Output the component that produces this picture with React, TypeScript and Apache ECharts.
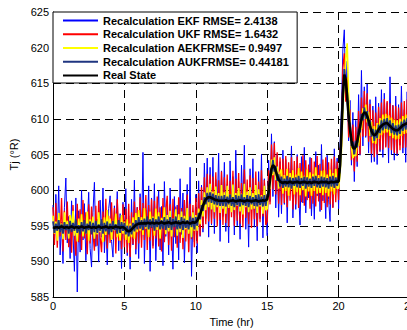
import React, { useEffect, useRef } from "react";
import * as echarts from "echarts";

// Sampling of all series: one value every 0.1 hr from 0 to 25 hr
const START_HR = 0;
const STEP_HR = 0.1;

const seriesNames = [
  "Recalculation EKF RMSE= 2.4138",
  "Recalculation UKF RMSE= 1.6432",
  "Recalculation AEKFRMSE= 0.9497",
  "Recalculation AUKFRMSE= 0.44181",
  "Real State",
];

const xTicks = [0, 5, 10, 15, 20, 25];
const yTicks = [585, 590, 595, 600, 605, 610, 615, 620, 625];

const ekf = [
  597.9, 592.4, 599.4, 593.6, 600.6, 590.9, 595.5, 589.7, 597.6, 601.7,
  592.6, 596.3, 590.4, 598.5, 593.9, 588.6, 598.9, 585.7, 597.1, 591.3,
  600.0, 593.0, 598.1, 590.1, 595.2, 599.7, 591.8, 589.2, 596.9, 601.1,
  592.1, 595.9, 589.9, 598.6, 593.4, 600.3, 591.2, 595.6, 589.5, 597.4,
  599.2, 592.8, 590.6, 597.8, 594.2, 599.8, 591.5, 596.7, 589.0, 598.3,
  593.1, 600.2, 590.8, 596.4, 588.9, 598.7, 592.3, 601.4, 591.0, 597.6,
  590.4, 599.5, 593.0, 605.3, 589.7, 597.2, 594.1, 600.6, 588.6, 598.9,
  592.2, 600.9, 590.1, 596.8, 599.9, 591.6, 597.7, 589.4, 601.2, 593.5,
  598.4, 590.9, 600.3, 594.7, 588.9, 599.1, 592.5, 597.9, 590.2, 601.6,
  593.8, 599.6, 589.8, 596.2, 600.8, 591.4, 603.2, 587.9, 597.0, 592.7,
  599.4, 591.2, 601.3, 593.5, 600.7, 594.1, 603.8, 596.0, 604.5, 593.4,
  603.2, 595.1, 604.6, 593.9, 601.5, 597.0, 605.2, 592.8, 602.7, 596.3,
  603.9, 594.2, 600.8, 592.6, 604.1, 596.9, 601.9, 593.7, 605.6, 595.0,
  601.2, 593.1, 603.5, 597.4, 606.3, 594.5, 600.1, 592.0, 603.0, 596.6,
  604.4, 594.8, 599.9, 592.9, 602.6, 596.0, 605.0, 593.3, 601.6, 597.8,
  593.6, 604.2, 598.4, 607.9, 599.1, 606.8, 597.5, 605.1, 596.2, 604.0,
  596.7, 605.6, 598.0, 604.3, 595.4, 603.1, 599.5, 606.2, 596.1, 602.8,
  597.3, 605.0, 599.8, 595.1, 604.7, 598.2, 606.0, 596.8, 602.4, 598.9,
  604.6, 596.4, 601.9, 595.9, 605.4, 599.2, 603.5, 597.0, 606.4, 598.5,
  602.1, 596.0, 604.9, 598.7, 595.6, 603.8, 597.6, 605.8, 599.6, 604.5,
  597.4, 606.2, 611.5, 619.8, 622.5, 613.2, 618.1, 606.9, 612.6, 603.5,
  610.9, 601.2, 609.8, 603.3, 613.4, 604.9, 616.8, 606.2, 614.5, 607.4,
  614.9, 605.2, 612.7, 603.9, 611.8, 604.0, 613.1, 603.6, 612.2, 605.4,
  614.1, 604.6, 613.6, 606.1, 612.3, 603.8, 615.9, 605.0, 611.9, 604.2,
  613.2, 604.8, 612.0, 606.3, 614.6, 605.2, 611.3, 603.9, 613.8, 606.0,
  612.0,
];

const ukf = [
  597.6, 592.3, 598.2, 591.9, 596.8, 593.5, 598.9, 591.4, 597.1, 593.0,
  598.4, 592.0, 596.5, 591.2, 597.9, 593.6, 590.8, 598.1, 592.7, 597.3,
  591.6, 598.6, 593.2, 596.9, 591.0, 598.0, 592.5, 597.7, 593.9, 591.5,
  597.8, 592.2, 598.5, 593.4, 591.3, 597.0, 592.8, 598.8, 591.8, 596.4,
  592.6, 598.3, 593.1, 597.5, 591.1, 598.7, 592.9, 596.2, 591.7, 598.0,
  592.0, 597.4, 591.2, 598.1, 590.6, 596.9, 592.4, 598.4, 591.7, 597.6,
  592.5, 599.0, 591.9, 598.2, 593.0, 599.3, 591.6, 597.9, 592.9, 598.7,
  591.8, 598.5, 593.2, 599.1, 592.1, 597.6, 591.4, 598.9, 592.7, 597.3,
  599.2, 592.3, 598.0, 591.5, 598.8, 593.4, 597.7, 591.9, 599.0, 592.6,
  597.5, 591.7, 598.6, 592.8, 599.4, 591.3, 598.1, 593.1, 597.9, 592.0,
  598.9, 592.5, 599.6, 593.6, 600.4, 594.6, 601.8, 595.2, 602.3, 595.6,
  602.2, 595.3, 601.9, 596.0, 602.5, 594.9, 601.4, 595.8, 602.6, 595.1,
  601.8, 595.4, 602.2, 594.9, 601.3, 596.2, 602.7, 595.0, 601.6, 595.7,
  602.4, 595.3, 601.0, 594.8, 602.9, 596.1, 601.5, 595.2, 602.1, 594.7,
  601.7, 595.9, 602.6, 594.9, 601.2, 595.5, 602.8, 596.3, 601.4, 595.1,
  595.6, 602.8, 598.0, 606.4, 600.1, 606.6, 599.4, 605.3, 598.1, 604.6,
  597.9, 604.4, 598.2, 604.8, 597.6, 603.9, 598.5, 604.6, 597.3, 604.1,
  598.0, 604.7, 597.5, 603.8, 598.3, 604.9, 597.8, 604.2, 598.6, 603.6,
  597.4, 604.5, 598.1, 604.0, 597.7, 604.8, 598.4, 603.7, 597.2, 604.3,
  598.2, 604.6, 597.6, 603.9, 598.0, 604.4, 597.5, 604.7, 598.3, 604.0,
  598.6, 605.9, 606.1, 617.2, 619.2, 612.4, 615.8, 607.4, 611.3, 604.2,
  609.2, 602.6, 608.9, 604.0, 611.1, 605.0, 613.0, 607.5, 613.9, 607.6,
  613.6, 606.8, 612.1, 605.1, 611.2, 604.6, 610.9, 605.0, 611.7, 605.6,
  612.3, 605.7, 612.8, 606.0, 612.5, 605.9, 612.2, 605.6, 611.9, 605.2,
  611.8, 605.1, 611.6, 605.6, 612.3, 605.9, 612.5, 606.0, 612.7, 606.2,
  612.8,
];

const aekf = [
  596.4, 593.9, 595.6, 592.9, 596.8, 594.2, 595.3, 593.1, 596.9, 594.6,
  595.7, 593.2, 596.5, 594.4, 597.1, 593.6, 595.2, 592.8, 596.0, 594.0,
  596.6, 593.5, 595.4, 593.9, 597.0, 592.9, 595.9, 594.3, 596.3, 593.2,
  595.5, 593.8, 596.9, 594.1, 595.8, 592.7, 596.2, 593.7, 597.2, 594.5,
  596.0, 593.0, 595.7, 594.3, 596.7, 593.4, 595.1, 592.9, 596.5, 593.9,
  595.6, 593.0, 595.9, 592.6, 595.3, 593.4, 596.2, 593.2, 596.8, 594.1,
  597.2, 594.3, 596.2, 593.7, 597.5, 594.6, 596.0, 593.4, 597.0, 594.8,
  596.3, 593.6, 597.4, 594.4, 596.9, 593.2, 596.1, 594.7, 597.6, 593.8,
  596.5, 594.2, 597.1, 593.5, 596.0, 594.9, 597.3, 593.6, 596.6, 594.1,
  597.0, 593.3, 596.4, 594.5, 597.5, 593.9, 596.2, 593.4, 596.9, 594.3,
  596.5, 594.3, 597.4, 595.2, 598.6, 596.3, 599.7, 597.2, 600.4, 597.6,
  600.9, 597.3, 599.8, 596.9, 600.5, 597.6, 599.6, 596.8, 600.7, 597.4,
  599.7, 596.7, 600.6, 597.5, 599.4, 596.9, 600.8, 597.2, 599.6, 597.8,
  600.3, 597.0, 599.5, 596.6, 600.9, 597.6, 599.8, 596.9, 600.4, 597.3,
  599.6, 597.4, 600.7, 596.8, 600.1, 597.7, 599.3, 596.7, 600.6, 597.2,
  597.4, 600.6, 600.2, 604.3, 602.1, 604.6, 601.4, 603.3, 600.2, 602.5,
  602.9, 599.5, 602.1, 599.9, 603.0, 599.2, 602.4, 600.1, 602.8, 599.4,
  602.2, 599.7, 603.1, 599.3, 602.6, 600.0, 602.0, 599.1, 602.9, 599.8,
  602.5, 599.2, 602.3, 599.9, 603.2, 599.5, 602.1, 599.6, 602.7, 599.3,
  602.8, 599.6, 602.2, 599.1, 602.9, 599.8, 602.4, 599.4, 603.0, 600.2,
  600.3, 602.2, 605.5, 611.0, 615.0, 618.5, 620.6, 613.5, 609.0, 606.0,
  604.5, 605.0, 604.8, 606.5, 606.2, 608.5, 608.6, 611.5, 610.0, 612.0,
  609.5, 611.0, 607.6, 609.6, 606.6, 609.0, 606.5, 609.4, 607.2, 610.1,
  607.7, 610.6, 608.0, 610.7, 608.1, 610.5, 607.6, 610.2, 607.3, 609.9,
  607.1, 609.8, 607.2, 610.0, 607.6, 610.4, 607.9, 610.6, 608.0, 610.7,
  608.2,
];

const aukf = [
  595.6, 594.0, 595.3, 594.3, 595.8, 594.1, 595.2, 593.9, 595.5, 594.4,
  595.2, 593.9, 595.7, 594.1, 595.4, 594.3, 595.9, 594.0, 595.1, 593.8,
  595.5, 594.2, 595.8, 593.9, 595.3, 594.4, 595.6, 593.8, 595.4, 594.1,
  595.7, 594.0, 595.2, 594.3, 595.9, 593.9, 595.4, 594.2, 595.6, 593.8,
  595.3, 594.1, 595.7, 594.4, 595.2, 593.9, 595.8, 594.0, 595.5, 594.3,
  595.4, 593.8, 595.0, 593.5, 595.0, 593.8, 595.4, 594.2, 595.8, 594.5,
  596.2, 594.6, 595.8, 594.4, 596.0, 594.8, 596.3, 594.5, 595.9, 594.7,
  596.1, 594.3, 595.9, 594.8, 596.3, 594.5, 595.8, 594.6, 596.2, 594.4,
  595.9, 594.7, 596.2, 594.4, 596.0, 594.8, 596.3, 594.5, 595.8, 594.6,
  596.2, 594.4, 596.0, 594.7, 595.8, 594.5, 596.3, 594.8, 596.1, 594.5,
  596.2, 595.0, 596.8, 595.9, 597.9, 597.1, 599.0, 598.0, 599.6, 598.3,
  599.7, 598.2, 599.5, 598.0, 599.3, 597.9, 599.2, 597.8, 599.2, 597.8,
  599.3, 597.7, 599.1, 598.0, 599.4, 597.8, 599.0, 597.6, 599.3, 597.9,
  599.2, 597.7, 599.4, 597.9, 599.0, 597.8, 599.3, 597.6, 599.2, 598.0,
  599.0, 597.8, 599.3, 597.7, 599.4, 597.9, 599.1, 597.7, 599.3, 597.8,
  599.4, 599.1, 602.2, 602.3, 604.2, 602.6, 603.4, 601.3, 602.2, 600.5,
  601.9, 600.3, 601.6, 600.5, 602.0, 600.4, 601.8, 600.2, 601.7, 600.6,
  601.8, 600.4, 602.0, 600.3, 601.7, 600.6, 601.9, 600.2, 601.8, 600.5,
  601.6, 600.3, 601.9, 600.6, 602.0, 600.4, 601.7, 600.3, 601.9, 600.5,
  601.8, 600.4, 601.7, 600.2, 601.9, 600.5, 602.0, 600.3, 601.8, 600.6,
  601.9, 602.8, 608.8, 612.7, 617.0, 614.7, 613.8, 609.7, 609.3, 606.2,
  606.8, 605.0, 606.9, 606.0, 608.6, 608.1, 610.7, 609.8, 611.6, 610.0,
  611.1, 609.0, 609.8, 607.5, 608.6, 606.9, 608.5, 607.3, 609.2, 608.0,
  609.8, 608.4, 610.0, 608.6, 610.1, 608.5, 609.8, 608.0, 609.4, 607.8,
  609.1, 607.7, 609.2, 607.9, 609.6, 608.3, 609.9, 608.5, 610.1, 608.7,
  610.2,
];

const realState = [
  594.8, 594.7, 594.8, 594.8, 594.7, 594.8, 594.9, 594.8, 594.7, 594.8,
  594.8, 594.7, 594.8, 594.9, 594.8, 594.7, 594.8, 594.8, 594.7, 594.8,
  594.9, 594.8, 594.7, 594.8, 594.8, 594.9, 594.8, 594.7, 594.8, 594.8,
  594.7, 594.8, 594.9, 594.8, 594.7, 594.8, 594.8, 594.9, 594.8, 594.7,
  594.8, 594.8, 594.7, 594.8, 594.9, 594.8, 594.8, 594.7, 594.8, 594.8,
  594.7, 594.5, 594.3, 594.2, 594.3, 594.5, 594.7, 594.9, 595.1, 595.2,
  595.3, 595.3, 595.4, 595.3, 595.4, 595.3, 595.4, 595.4, 595.3, 595.4,
  595.4, 595.3, 595.4, 595.4, 595.3, 595.4, 595.5, 595.4, 595.3, 595.4,
  595.4, 595.5, 595.4, 595.3, 595.4, 595.4, 595.5, 595.4, 595.4, 595.3,
  595.4, 595.5, 595.4, 595.4, 595.5, 595.4, 595.3, 595.4, 595.5, 595.4,
  595.5, 595.7, 596.1, 596.6, 597.2, 597.8, 598.3, 598.7, 598.9, 599.0,
  599.0, 598.9, 598.8, 598.7, 598.6, 598.6, 598.5, 598.5, 598.5, 598.5,
  598.5, 598.6, 598.5, 598.4, 598.5, 598.5, 598.6, 598.5, 598.4, 598.5,
  598.5, 598.6, 598.5, 598.5, 598.4, 598.5, 598.6, 598.5, 598.5, 598.4,
  598.5, 598.5, 598.6, 598.5, 598.4, 598.5, 598.5, 598.6, 598.5, 598.6,
  598.7, 599.8, 601.5, 603.0, 603.5, 603.3, 602.7, 602.0, 601.5, 601.2,
  601.1, 601.0, 601.1, 601.1, 601.0, 601.1, 601.2, 601.1, 601.0, 601.1,
  601.1, 601.2, 601.1, 601.0, 601.1, 601.1, 601.2, 601.1, 601.0, 601.1,
  601.1, 601.0, 601.1, 601.2, 601.1, 601.1, 601.0, 601.1, 601.2, 601.1,
  601.1, 601.2, 601.1, 601.0, 601.1, 601.2, 601.1, 601.1, 601.2, 601.2,
  601.2, 603.5, 608.0, 613.5, 616.2, 615.5, 613.0, 610.5, 608.5, 607.0,
  606.0, 605.8, 606.1, 606.8, 607.8, 608.9, 609.9, 610.6, 610.9, 610.8,
  610.4, 609.8, 609.0, 608.3, 607.9, 607.7, 607.8, 608.1, 608.5, 608.8,
  609.0, 609.2, 609.3, 609.4, 609.4, 609.2, 609.0, 608.8, 608.6, 608.5,
  608.4, 608.4, 608.5, 608.7, 608.9, 609.1, 609.2, 609.3, 609.4, 609.4,
  609.5,
];

const seriesValues = [ekf, ukf, aekf, aukf, realState];
const seriesColors = ["#0000ff", "#ff0000", "#ffff00", "#1f3580", "#000000"];
const seriesWidths = [1, 1.3, 1.6, 1.8, 2.6];

const FONT = "'Liberation Sans', Arial, Helvetica, sans-serif";

export default function App() {
  const ref = useRef<HTMLDivElement>(null);

  useEffect(() => {
    if (!ref.current) return;
    const chart = echarts.init(ref.current, undefined, { renderer: "svg" });

    const series = seriesValues.map((vals, k) => ({
      name: seriesNames[k],
      type: "line",
      data: vals.map((v, i) => [START_HR + i * STEP_HR, v]),
      showSymbol: false,
      symbol: "none",
      color: seriesColors[k],
      lineStyle: { color: seriesColors[k], width: seriesWidths[k] },
      z: 2 + k,
      silent: true,
    }));

    chart.setOption({
      animation: false,
      backgroundColor: "#ffffff",
      textStyle: { fontFamily: FONT },
      grid: {
        left: 53,
        top: 12,
        width: 357,
        height: 285,
        containLabel: false,
        outerBoundsMode: "none",
      },
      legend: {
        left: 53,
        top: 12,
        orient: "vertical",
        data: seriesNames,
        backgroundColor: "#ffffff",
        borderColor: "#000000",
        borderWidth: 1,
        borderRadius: 0,
        padding: [3, 8, 2, 9],
        itemWidth: 35,
        itemHeight: 14,
        itemGap: 2.5,
        itemStyle: { opacity: 0, borderWidth: 0 },
        textStyle: { fontFamily: FONT, fontSize: 11, fontWeight: "bold", color: "#000" },
        selectedMode: false,
        z: 20,
      },
      xAxis: {
        type: "value",
        min: xTicks[0],
        max: xTicks[xTicks.length - 1],
        interval: xTicks[1] - xTicks[0],
        name: "Time (hr)",
        nameLocation: "middle",
        nameGap: 19,
        nameTextStyle: { fontFamily: FONT, fontSize: 11, color: "#000" },
        axisLine: { show: true, onZero: false, lineStyle: { color: "#000", width: 1 } },
        axisTick: { show: true, inside: true, length: 4, lineStyle: { color: "#000" } },
        axisLabel: { fontFamily: FONT, fontSize: 11, color: "#000", margin: 3, hideOverlap: false },
        splitLine: { show: true, lineStyle: { color: "#000", type: [8, 5], width: 1 } },
      },
      yAxis: {
        type: "value",
        min: yTicks[0],
        max: yTicks[yTicks.length - 1],
        interval: yTicks[1] - yTicks[0],
        name: "Tj (°R)",
        nameLocation: "middle",
        nameGap: 29,
        nameTextStyle: { fontFamily: FONT, fontSize: 11, color: "#000" },
        axisLine: { show: true, lineStyle: { color: "#000", width: 1 } },
        axisTick: { show: true, inside: true, length: 4, lineStyle: { color: "#000" } },
        axisLabel: { fontFamily: FONT, fontSize: 11, color: "#000", margin: 4 },
        splitLine: { show: true, lineStyle: { color: "#000", type: [8, 5], width: 1 } },
      },
      series,
    });

    return () => chart.dispose();
  }, []);

  return (
    <div
      style={{ position: "absolute", left: 0, top: 0, width: 407, height: 330, overflow: "hidden", background: "#fff" }}
    >
      <div ref={ref} style={{ width: 407, height: 330 }} />
    </div>
  );
}
